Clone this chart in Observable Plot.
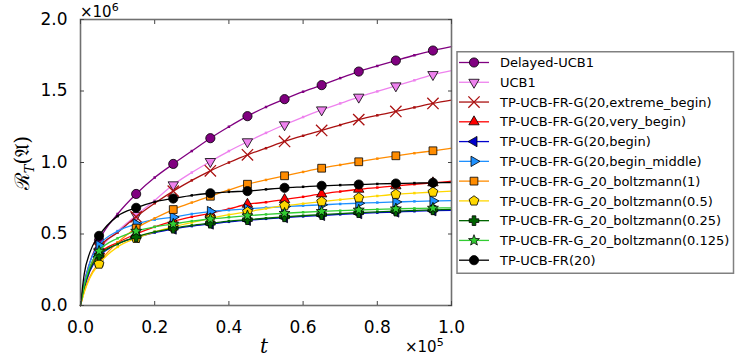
<!DOCTYPE html>
<html><head><meta charset="utf-8">
<script src="https://cdn.jsdelivr.net/npm/d3@7"></script>
<script src="https://cdn.jsdelivr.net/npm/@observablehq/plot@0.6"></script>
<style>
body{margin:0;background:#fff;}
#wrap{position:relative;width:735px;height:364px;font-family:"DejaVu Sans",sans-serif;overflow:hidden;}
#wrap svg{position:absolute;left:0;top:0;}
.lbl{position:absolute;white-space:nowrap;color:#000;line-height:1;}
</style></head><body><div id="wrap"></div>
<script>
// time steps
const tValues = [0, 1000, 2500, 5000, 10000, 15000, 20000, 25000, 30000, 35000, 40000, 45000, 50000, 55000, 60000, 65000, 70000, 75000, 80000, 85000, 90000, 95000, 100000];
// regret values (x 1e6)
const delayedUCB1   = [0, 0.16, 0.30, 0.455, 0.64, 0.78, 0.895, 0.99, 1.08, 1.17, 1.25, 1.324, 1.388, 1.443, 1.495, 1.541, 1.59, 1.636, 1.675, 1.713, 1.75, 1.783, 1.81];
const ucb1          = [0, 0.10, 0.24, 0.38, 0.52, 0.63, 0.735, 0.844, 0.93, 1.007, 1.08, 1.145, 1.207, 1.264, 1.318, 1.368, 1.413, 1.457, 1.497, 1.536, 1.575, 1.615, 1.643];
const extremeBegin  = [0, 0.13, 0.26, 0.40, 0.51, 0.62, 0.715, 0.80, 0.875, 0.942, 1.0, 1.054, 1.10, 1.147, 1.187, 1.224, 1.262, 1.30, 1.33, 1.357, 1.385, 1.413, 1.436];
const veryBegin     = [0, 0.13, 0.26, 0.36, 0.44, 0.50, 0.55, 0.59, 0.62, 0.645, 0.675, 0.708, 0.722, 0.741, 0.76, 0.78, 0.797, 0.813, 0.825, 0.837, 0.848, 0.858, 0.869];
const begin         = [0, 0.12, 0.24, 0.34, 0.43, 0.475, 0.51, 0.535, 0.555, 0.57, 0.585, 0.596, 0.606, 0.615, 0.623, 0.63, 0.637, 0.643, 0.649, 0.654, 0.659, 0.663, 0.666];
const beginMiddle   = [0, 0.15, 0.30, 0.42, 0.52, 0.57, 0.60, 0.618, 0.64, 0.657, 0.667, 0.676, 0.685, 0.692, 0.698, 0.704, 0.71, 0.715, 0.72, 0.724, 0.728, 0.731, 0.733];
const boltzmann1    = [0, 0.10, 0.20, 0.30, 0.44, 0.541, 0.61, 0.671, 0.72, 0.764, 0.808, 0.848, 0.878, 0.907, 0.934, 0.96, 0.983, 1.005, 1.027, 1.047, 1.065, 1.082, 1.10];
const boltzmann05   = [0, 0.09, 0.19, 0.29, 0.41, 0.47, 0.515, 0.55, 0.58, 0.61, 0.635, 0.655, 0.678, 0.698, 0.712, 0.726, 0.74, 0.753, 0.766, 0.778, 0.786, 0.793, 0.80];
const boltzmann025  = [0, 0.13, 0.25, 0.35, 0.43, 0.48, 0.515, 0.54, 0.56, 0.575, 0.59, 0.60, 0.61, 0.62, 0.628, 0.636, 0.643, 0.649, 0.655, 0.66, 0.665, 0.669, 0.672];
const boltzmann0125 = [0, 0.14, 0.27, 0.38, 0.47, 0.52, 0.55, 0.57, 0.59, 0.605, 0.617, 0.628, 0.637, 0.645, 0.652, 0.658, 0.663, 0.668, 0.672, 0.676, 0.679, 0.681, 0.683];
const fr20          = [0, 0.22, 0.37, 0.487, 0.625, 0.683, 0.725, 0.748, 0.77, 0.785, 0.795, 0.80, 0.812, 0.823, 0.83, 0.837, 0.842, 0.846, 0.85, 0.853, 0.856, 0.858, 0.86];

const seriesNames = ["Delayed-UCB1", "UCB1", "TP-UCB-FR-G(20,extreme_begin)", "TP-UCB-FR-G(20,very_begin)", "TP-UCB-FR-G(20,begin)", "TP-UCB-FR-G(20,begin_middle)", "TP-UCB-FR-G_20_boltzmann(1)", "TP-UCB-FR-G_20_boltzmann(0.5)", "TP-UCB-FR-G_20_boltzmann(0.25)", "TP-UCB-FR-G_20_boltzmann(0.125)", "TP-UCB-FR(20)"];
const seriesValues = [delayedUCB1, ucb1, extremeBegin, veryBegin, begin, beginMiddle, boltzmann1, boltzmann05, boltzmann025, boltzmann0125, fr20];
const seriesColors = ["#800080", "#ee82ee", "#aa1111", "#ff0000", "#0000cd", "#1e90ff", "#ff8c00", "#ffd700", "#006400", "#32cd32", "#000000"];
const seriesMarkers = ["circle", "triDown", "x", "triUp", "triLeft", "triRight", "square", "pentagon", "plus", "star", "circle"];
const markerTimes = [5000, 15000, 25000, 35000, 45000, 55000, 65000, 75000, 85000, 95000];
const xTicks = [0, 20000, 40000, 60000, 80000, 100000];
const yTicks = [0, 500000, 1000000, 1500000, 2000000];

// custom marker shapes
function tri(angle) {
  return {draw(c, size) {
    const R = Math.sqrt(size / Math.PI) * 1.3;
    for (let k = 0; k < 3; k++) {
      const a = angle + k * 2 * Math.PI / 3;
      const px = R * Math.cos(a), py = R * Math.sin(a);
      k ? c.lineTo(px, py) : c.moveTo(px, py);
    }
    c.closePath();
  }};
}
const pentagonSym = {draw(c, size) {
  const R = Math.sqrt(size / Math.PI) * 1.12;
  for (let k = 0; k < 5; k++) {
    const a = -Math.PI / 2 + k * 2 * Math.PI / 5;
    const px = R * Math.cos(a), py = R * Math.sin(a);
    k ? c.lineTo(px, py) : c.moveTo(px, py);
  }
  c.closePath();
}};
const plusSym = {draw(c, size) {
  const R = Math.sqrt(size / Math.PI) * 1.05, w = R * 0.38;
  c.moveTo(-w, -R); c.lineTo(w, -R); c.lineTo(w, -w); c.lineTo(R, -w); c.lineTo(R, w); c.lineTo(w, w);
  c.lineTo(w, R); c.lineTo(-w, R); c.lineTo(-w, w); c.lineTo(-R, w); c.lineTo(-R, -w); c.lineTo(-w, -w); c.closePath();
}};
const starSym = {draw(c, size) {
  const R = Math.sqrt(size / Math.PI) * 1.25, r = R * 0.42;
  for (let k = 0; k < 10; k++) {
    const a = -Math.PI / 2 + k * Math.PI / 5, rr = k % 2 ? r : R;
    const px = rr * Math.cos(a), py = rr * Math.sin(a);
    k ? c.lineTo(px, py) : c.moveTo(px, py);
  }
  c.closePath();
}};
const symbolMap = {
  circle: "circle", square: "square", x: "times",
  triDown: tri(Math.PI / 2), triUp: tri(-Math.PI / 2), triLeft: tri(Math.PI), triRight: tri(0),
  pentagon: pentagonSym, plus: plusSym, star: starSym
};

const rows = [];
seriesNames.forEach((name, i) => {
  tValues.forEach((t, j) => rows.push({series: name, idx: i, t, v: seriesValues[i][j] * 1e6}));
});

const marks = [];
seriesNames.forEach((name, i) => {
  const data = rows.filter(d => d.idx === i);
  const color = seriesColors[i];
  const mk = seriesMarkers[i];
  marks.push(Plot.line(data, {x: "t", y: "v", stroke: color, strokeWidth: 1.3, curve: "monotone-x"}));
  marks.push(Plot.dot(data.filter(d => d.t > 0 && d.t < 100000 && d.t % 10000 === 0), {x: "t", y: "v", symbol: "square", r: 1.4, fill: color}));
  const md = data.filter(d => markerTimes.includes(d.t));
  if (mk === "x") {
    marks.push(Plot.dot(md, {x: "t", y: "v", symbol: "times", r: 5.2, stroke: color, strokeWidth: 1.3}));
  } else {
    marks.push(Plot.dot(md, {x: "t", y: "v", symbol: symbolMap[mk], r: mk === "square" ? 4.4 : 4.6, fill: color, stroke: "#000", strokeWidth: 0.8}));
  }
});

const chart = Plot.plot({
  width: 735, height: 364,
  marginLeft: 80, marginRight: 284, marginTop: 19, marginBottom: 59,
  style: {fontFamily: "DejaVu Sans", fontSize: "17px", background: "transparent", color: "#000"},
  x: {domain: [0, 100000]},
  y: {domain: [0, 2000000]},
  marks: [
    ...marks,
    Plot.frame({stroke: "#707070", strokeWidth: 1.6}),
    Plot.axisX({ticks: xTicks, tickSize: -4, tickPadding: 19, tickFormat: d => (d / 1e5).toFixed(1), label: null, stroke: "#444"}),
    Plot.axisX({anchor: "top", ticks: xTicks, tickSize: -4, tickFormat: () => "", label: null, stroke: "#444"}),
    Plot.axisY({ticks: yTicks, tickSize: -4, tickPadding: 17, tickFormat: d => (d / 1e6).toFixed(1), label: null, stroke: "#444"}),
    Plot.axisY({anchor: "right", ticks: yTicks, tickSize: -4, tickFormat: () => "", label: null, stroke: "#444"})
  ]
});
const wrap = document.getElementById("wrap");
wrap.appendChild(chart);

// offset texts and axis labels
function addLabel(html, css) {
  const d = document.createElement("div");
  d.className = "lbl";
  d.innerHTML = html;
  Object.assign(d.style, css);
  wrap.appendChild(d);
  return d;
}
addLabel("×10<sup style='font-size:11px;vertical-align:6px'>6</sup>", {left: "80px", top: "2px", fontSize: "15px"});
addLabel("×10<sup style='font-size:11px;vertical-align:6px'>5</sup>", {left: "405px", top: "337px", fontSize: "15px"});
addLabel("t", {left: "260px", top: "336px", fontSize: "20px", fontFamily: "'DejaVu Serif', serif", fontStyle: "italic"});
addLabel("ℛ<sub style='font-size:13px;font-style:italic'>T</sub>(𝔄)", {left: "24px", top: "163px", fontSize: "20px", fontFamily: "'DejaVu Serif', serif", transform: "translate(-50%,-50%) rotate(-90deg)"});

// legend
const lg = d3.select(wrap).append("svg")
  .attr("width", 279).attr("height", 224)
  .style("left", "456px").style("top", "51px")
  .style("font-family", "DejaVu Sans").style("font-size", "13px");
lg.append("rect").attr("x", 1).attr("y", 0.75).attr("width", 276.5).attr("height", 221.5)
  .attr("fill", "#fff").attr("stroke", "#808080").attr("stroke-width", 1.5);
seriesNames.forEach((name, i) => {
  const cy = 11.5 + i * 19.77;
  const g = lg.append("g");
  g.append("line").attr("x1", 3).attr("x2", 33).attr("y1", cy).attr("y2", cy)
    .attr("stroke", seriesColors[i]).attr("stroke-width", 1.3);
  const mk = seriesMarkers[i];
  if (mk === "x") {
    g.append("path").attr("d", d3.symbol(d3.symbolTimes, Math.PI * 5.2 * 5.2)())
      .attr("transform", `translate(18,${cy})`).attr("fill", "none").attr("stroke", seriesColors[i]).attr("stroke-width", 1.3);
  } else {
    const s = symbolMap[mk];
    const type = s === "circle" ? d3.symbolCircle : s === "square" ? d3.symbolSquare : s;
    const rr = mk === "square" ? 4.4 : 4.6;
    g.append("path").attr("d", d3.symbol(type, Math.PI * rr * rr)())
      .attr("transform", `translate(18,${cy})`).attr("fill", seriesColors[i]).attr("stroke", "#000").attr("stroke-width", 0.8);
  }
  g.append("text").attr("x", 44).attr("y", cy).attr("dy", "0.36em").text(name);
});
</script></body></html>
